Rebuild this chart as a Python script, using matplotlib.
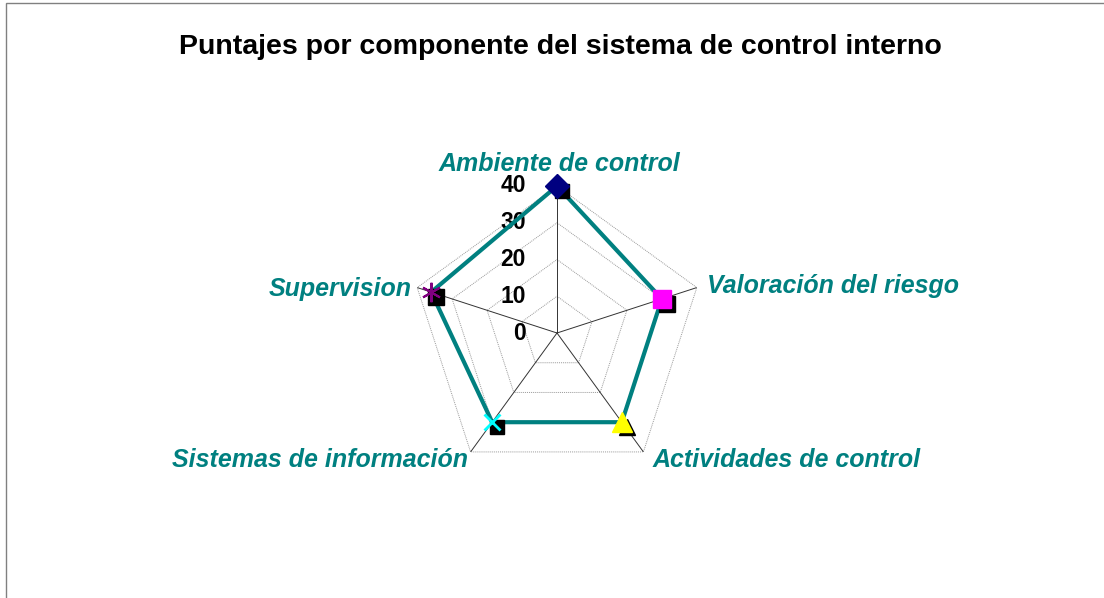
import numpy as np
import matplotlib.pyplot as plt
import matplotlib.transforms as mtransforms
from matplotlib.patches import Rectangle

TITLE = "Puntajes por componente del sistema de control interno"
CATEGORIES = [
    "Ambiente de control",
    "Valoración del riesgo",
    "Actividades de control",
    "Sistemas de información",
    "Supervision",
]
SCORES = [40, 30, 30, 30, 36]
RINGS = [10, 20, 30, 40]
RING_LABELS = ["0", "10", "20", "30", "40"]

TEAL = "#008080"
MARKERS = [
    dict(marker="D", color="#000080", ms=12),
    dict(marker="s", color="#FF00FF", ms=13),
    dict(marker="^", color="#FFFF00", ms=14),
    dict(marker="x", color="#00FFFF", ms=12, mew=2),
    dict(marker=(6, 2, 0), color="#800080", ms=14, mew=1.5),
]
SHADOWS = ["s", "s", "^", "s", "s"]
LABEL_POS = [  # (dx, dy) pixels to baseline, ha
    ((2, 15), "center"),
    ((10, -5), "left"),
    ((9, -15), "left"),
    ((-3, -15), "right"),
    ((-6, -8), "right"),
]

plt.rcParams["font.family"] = ["Liberation Sans", "DejaVu Sans"]

fig = plt.figure(figsize=(11.04, 5.98), dpi=100)
fig.patches.append(Rectangle((6 / 1104, -0.1), 1.2, 1.1 - 3 / 598,
                             transform=fig.transFigure, fill=False,
                             edgecolor="#808080", lw=1))

R = 147
cx, cy = 557, 333
ax = fig.add_axes([(cx - R) / 1104, (598 - cy - R) / 598, 2 * R / 1104, 2 * R / 598],
                  projection="polar")
ax.set_theta_offset(np.pi / 2)
ax.set_theta_direction(-1)
ax.set_ylim(0, 40)
ax.grid(False)
ax.spines["polar"].set_visible(False)
ax.set_xticks([])
ax.set_yticks([])
ax.patch.set_alpha(0)

n = len(CATEGORIES)
theta = np.arange(n) * 2 * np.pi / n
closed = np.append(theta, theta[0])

for r in RINGS:
    ax.plot(closed, [r] * (n + 1), color="#999999", lw=0.7, ls=(0, (1, 1)))
for t in theta:
    ax.plot([t, t], [0, 40], color="#333333", lw=0.7)

for i, lab in enumerate(RING_LABELS):
    ax.annotate(lab, xy=(0, i * 10), xytext=(-31, 0), textcoords="offset pixels",
                ha="right", va="center", fontsize=16.5, fontweight="bold")

ax.plot(closed, np.append(SCORES, SCORES[0]), color=TEAL, lw=3, zorder=3)

shadow = mtransforms.offset_copy(ax.transData, fig=fig, x=5, y=-5, units="dots")
for t, v, m, s in zip(theta, SCORES, MARKERS, SHADOWS):
    ax.plot([t], [v], marker=s, color="black", ms=m["ms"] - 2, ls="none",
            transform=shadow, zorder=3.5, clip_on=False)
    ax.plot([t], [v], ls="none", zorder=4, clip_on=False,
            marker=m["marker"], color=m["color"], ms=m["ms"], mew=m.get("mew", 1))

for t, lab, ((dx, dy), ha) in zip(theta, CATEGORIES, LABEL_POS):
    ax.annotate(lab, xy=(t, 40), xytext=(dx, dy), textcoords="offset pixels",
                ha=ha, va="baseline", fontsize=18, fontweight="bold",
                fontstyle="italic", color=TEAL, annotation_clip=False)

fig.text(560 / 1104, 1 - 54 / 598, TITLE, ha="center", va="baseline",
         fontsize=20.5, fontweight="bold")

fig.savefig("out.png", dpi=100)
